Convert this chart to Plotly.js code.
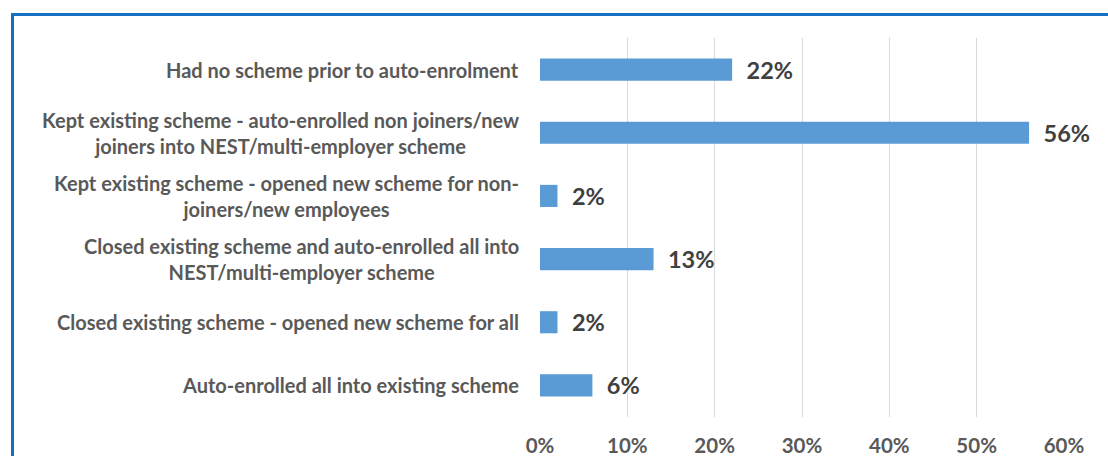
<!DOCTYPE html>
<html>
<head>
<meta charset="utf-8">
<script src="https://cdn.plot.ly/plotly-3.0.1.min.js"></script>
<style>
  html, body { margin: 0; padding: 0; background: #fff; }
  #wrap { position: relative; width: 1108px; height: 456px; overflow: hidden; }
  #chart { width: 1108px; height: 456px; }
  #frame { position: absolute; left: 11px; top: 13px; width: 1120px; height: 500px;
           border-left: 3px solid #1570c2; border-top: 3px solid #1570c2; pointer-events: none; }
</style>
</head>
<body>
<div id="wrap">
  <div id="chart"></div>
  <div id="frame"></div>
</div>
<script>
const categories = [
  "Had no scheme prior to auto-enrolment",
  "Kept existing scheme - auto-enrolled non joiners/new<br>joiners into NEST/multi-employer scheme",
  "Kept existing scheme - opened new scheme for non-<br>joiners/new employees",
  "Closed existing scheme and auto-enrolled all into<br>NEST/multi-employer scheme",
  "Closed existing scheme - opened new scheme for all",
  "Auto-enrolled all into existing scheme"
];
const values = [22, 56, 2, 13, 2, 6];
const tickVals = [0, 10, 20, 30, 40, 50, 60];
const tickText = ["0%", "10%", "20%", "30%", "40%", "50%", "60%"];

const fontFam = "Lato, 'Open Sans', sans-serif";

const trace = {
  type: "bar",
  orientation: "h",
  x: values,
  y: categories,
  width: 0.35,
  marker: { color: "#5B9BD5" },
  text: values.map(v => "\u00a0\u00a0" + v + "%"),
  textposition: "outside",
  constraintext: "none",
  textfont: { family: fontFam, size: 23.5, color: "#404040", weight: "bold" },
  cliponaxis: false,
  hoverinfo: "skip"
};

const annotations = categories.map(c => ({
  xref: "paper", yref: "y", x: 0, y: c,
  xanchor: "right", yanchor: "middle", xshift: -19,
  text: c, showarrow: false, align: "center",
  font: { family: fontFam, size: 20, color: "#595959", weight: "bold" }
}));

const layout = {
  width: 1108, height: 456,
  margin: { l: 540, r: 44, t: 38, b: 39 },
  paper_bgcolor: "#ffffff",
  plot_bgcolor: "#ffffff",
  showlegend: false,
  bargap: 0.65,
  xaxis: {
    range: [0, 60], tickvals: tickVals, ticktext: tickText,
    showgrid: true, gridcolor: "#d9d9d9", gridwidth: 1,
    zeroline: false, showline: false, ticks: "",
    ticklabelstandoff: 14,
    tickfont: { family: fontFam, size: 20.5, color: "#595959", weight: "bold" },
    fixedrange: true
  },
  yaxis: {
    autorange: "reversed", showticklabels: false, showgrid: false,
    zeroline: false, showline: false, ticks: "", fixedrange: true,
    categoryorder: "array", categoryarray: categories
  },
  annotations: annotations
};

Plotly.newPlot("chart", [trace], layout, { displayModeBar: false, staticPlot: true });
</script>
</body>
</html>
